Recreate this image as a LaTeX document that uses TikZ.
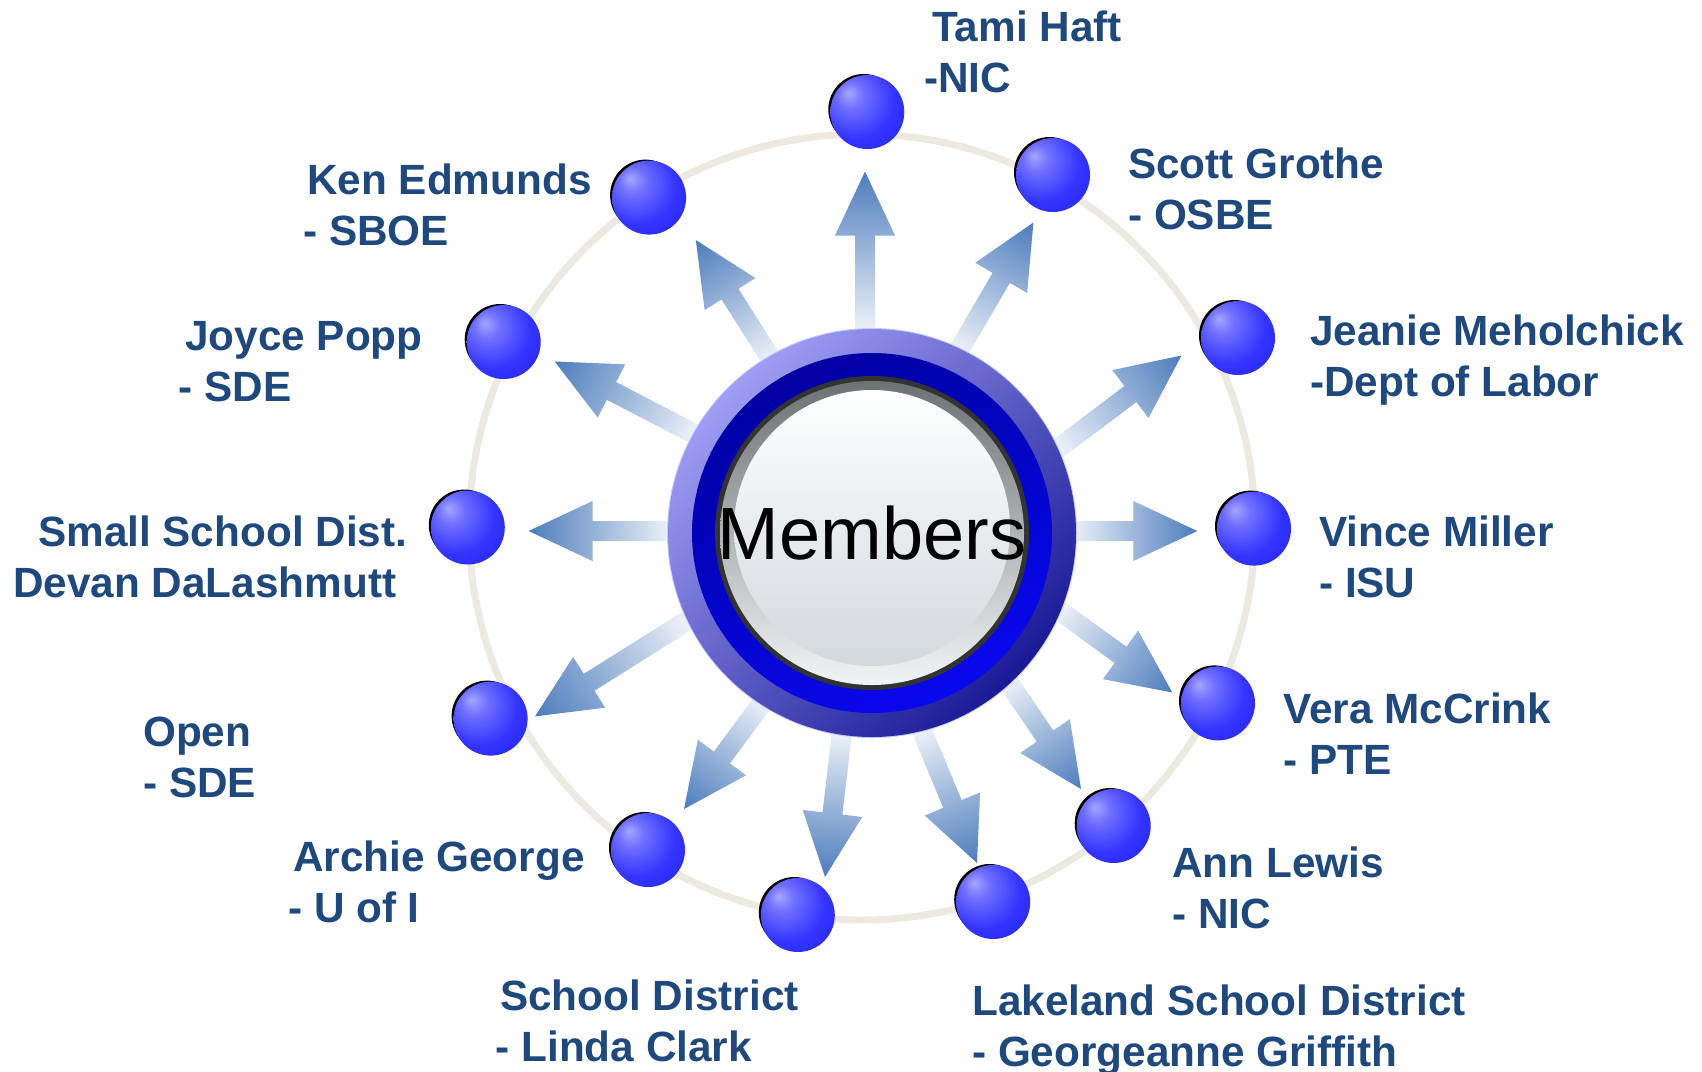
\documentclass[tikz,border=0pt]{standalone}
\usepackage{fontspec}
\setmainfont{Liberation Sans}
\usetikzlibrary{calc}
\definecolor{ringc}{RGB}{236,234,224}
\definecolor{arrowblue}{RGB}{76,124,188}
\definecolor{labc}{RGB}{31,73,125}
\definecolor{rimA}{RGB}{158,158,244}
\definecolor{rimB}{RGB}{26,26,150}
\definecolor{darkA}{RGB}{0,0,162}
\definecolor{darkB}{RGB}{8,8,238}
\definecolor{greyA}{RGB}{108,113,114}
\definecolor{greyB}{RGB}{242,245,245}
\definecolor{innerB}{RGB}{210,217,220}
\definecolor{sphA}{RGB}{165,165,255}
\definecolor{sphB}{RGB}{112,112,255}
\definecolor{sphC}{RGB}{52,52,255}
\definecolor{sphD}{RGB}{30,30,242}
\pgfdeclareradialshading{sph}{\pgfpoint{-13bp}{13bp}}{color(0bp)=(sphA); color(9bp)=(sphB); color(26bp)=(sphC); color(50bp)=(sphD); color(70bp)=(sphD)}
\newcommand\mkarrow[3]{%
  \begin{scope}[transform canvas={shift={(#1)},rotate=#2}]
    \shade[left color=white, right color=arrowblue]
      (-#3,-10) -- (-64,-10) -- (-64,-30) -- (0,0) -- (-64,30) -- (-64,10) -- (-#3,10) -- cycle;
  \end{scope}}
\newcommand\mksphere[1]{%
  \fill[black] ($(#1)+(-3.5,-2.5)$) circle (35.5pt);
  \shade[shading=sph] (#1) circle (37pt);}
\begin{document}
\begin{tikzpicture}[x=1pt,y=-1pt,
  lab/.style={anchor=base west, inner sep=0pt, align=left, text=labc,
    font=\bfseries\fontsize{42.3}{51}\selectfont}]
\fill[white] (0,0) rectangle (1702,1071);
\useasboundingbox (0,0) rectangle (1702,1071);

% background ring
\coordinate (rc) at (862,527);
\draw[ringc, line width=7pt] (rc) circle (393pt);

% arrow tips
\coordinate (a1) at (865,171.5);
\coordinate (a2) at (1033.4,222.5);
\coordinate (a3) at (1181.5,355.5);
\coordinate (a4) at (1197.3,531);
\coordinate (a5) at (1172.3,692.5);
\coordinate (a6) at (1081,789);
\coordinate (a7) at (977,863);
\coordinate (a8) at (825,877);
\coordinate (a9) at (684,809);
\coordinate (a10) at (535,716.4);
\coordinate (a11) at (528.6,531);
\coordinate (a12) at (554.7,361.5);
\coordinate (a13) at (695.8,240);

\mkarrow{a1}{90}{176}
\mkarrow{a2}{59.8}{165}
\mkarrow{a3}{37}{172}
\mkarrow{a4}{0}{140}
\mkarrow{a5}{-36}{155}
\mkarrow{a6}{-55.8}{145}
\mkarrow{a7}{-67.4}{161}
\mkarrow{a8}{-96.7}{162}
\mkarrow{a9}{-126.4}{149}
\mkarrow{a10}{-147.8}{199}
\mkarrow{a11}{180}{158}
\mkarrow{a12}{152.6}{175}
\mkarrow{a13}{122.3}{157}

% Members button
\coordinate (mc) at (872,533);
\draw[draw={rgb,255:red,200;green,200;blue,255}, line width=2pt] (mc) circle (204pt);
\shade[top color=rimA, bottom color=rimB, shading angle=45] (mc) circle (204pt);
\shade[top color=darkA, bottom color=darkB, shading angle=25] (mc) circle (180pt);
\fill[black!80] (mc) circle (157pt);
\shade[top color=greyA, bottom color=greyB] (mc) circle (152pt);
\shade[top color=white, bottom color=innerB] ($(mc)+(0,-5)$) circle (138pt);
\node[inner sep=0pt, font=\fontsize{74}{80}\selectfont] (m) at (mc) {Members};

% spheres
\coordinate (s1) at (867.3,112);
\coordinate (s2) at (1053,175);
\coordinate (s3) at (1238,338);
\coordinate (s4) at (1254,528.6);
\coordinate (s5) at (1218,703.4);
\coordinate (s6) at (1113.7,826);
\coordinate (s7) at (993.2,902);
\coordinate (s8) at (797.8,915);
\coordinate (s9) at (648,850);
\coordinate (s10) at (490.6,718.6);
\coordinate (s11) at (467.8,527.5);
\coordinate (s12) at (503.7,342);
\coordinate (s13) at (649.1,197.6);
\foreach \s in {s1,s2,s3,s4,s5,s6,s7,s8,s9,s10,s11,s12,s13}{\mksphere{\s}}

% labels (anchor = baseline of the second line)
\node[lab] (l1) at (932,92.5) {Tami Haft\\\hspace*{-8pt}-NIC};
\node[lab] (l2) at (1128,229) {Scott Grothe\\- OSBE};
\node[lab] (l3) at (1310,396) {Jeanie Meholchick\\-Dept of Labor};
\node[lab] (l4) at (1319,597) {Vince Miller\\- ISU};
\node[lab] (l5) at (1283,774) {Vera McCrink\\- PTE};
\node[lab] (l6) at (1172,928) {Ann Lewis\\- NIC};
\node[lab] (l7) at (972,1066) {Lakeland School District\\- Georgeanne Griffith};
\node[lab] (l8) at (500,1061) {School District\\\hspace*{-4.5pt}- Linda Clark};
\node[lab] (l9) at (293,922) {Archie George\\\hspace*{-5pt}- U of I};
\node[lab] (l10) at (143,797) {Open\\- SDE};
\node[lab] (l11) at (38,597) {Small School Dist.\\\hspace*{-25pt}Devan DaLashmutt};
\node[lab] (l12) at (185,401) {Joyce Popp\\\hspace*{-6.5pt}- SDE};
\node[lab] (l13) at (307,245) {Ken Edmunds\\\hspace*{-4pt}- SBOE};
\end{tikzpicture}
\end{document}
